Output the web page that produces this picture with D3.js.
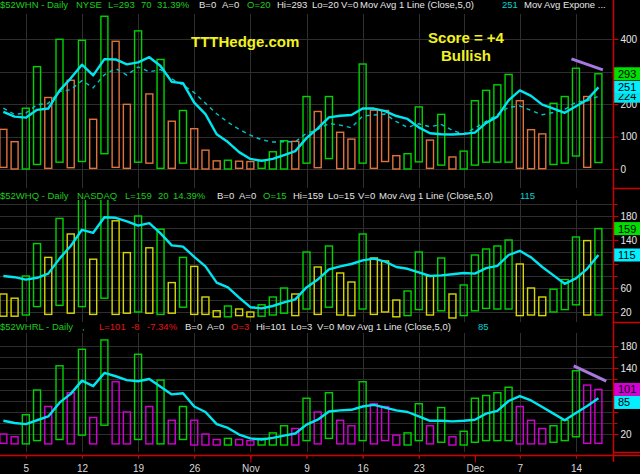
<!DOCTYPE html>
<html>
<head>
<meta charset="utf-8">
<script src="https://cdn.jsdelivr.net/npm/d3@7"></script>
<style>
body { margin: 0; background: #000; }
svg { display: block; font-family: Arial, "Liberation Sans", sans-serif; }
</style>
</head>
<body>
<svg id="chart" width="640" height="474"></svg>
<script>
// trading days shown on the chart
const days = ["2020-10-01","2020-10-02","2020-10-05","2020-10-06","2020-10-07","2020-10-08","2020-10-09",
  "2020-10-12","2020-10-13","2020-10-14","2020-10-15","2020-10-16","2020-10-19","2020-10-20","2020-10-21",
  "2020-10-22","2020-10-23","2020-10-26","2020-10-27","2020-10-28","2020-10-29","2020-10-30",
  "2020-11-02","2020-11-03","2020-11-04","2020-11-05","2020-11-06","2020-11-09","2020-11-10","2020-11-11",
  "2020-11-12","2020-11-13","2020-11-16","2020-11-17","2020-11-18","2020-11-19","2020-11-20",
  "2020-11-23","2020-11-24","2020-11-25","2020-11-27","2020-11-30",
  "2020-12-01","2020-12-02","2020-12-03","2020-12-04","2020-12-07","2020-12-08","2020-12-09","2020-12-10",
  "2020-12-11","2020-12-14","2020-12-15","2020-12-16"];

const tickDays = ["2020-10-05","2020-10-12","2020-10-19","2020-10-26","2020-11-02","2020-11-09",
  "2020-11-16","2020-11-23","2020-12-01","2020-12-07","2020-12-14"];
const tickLabels = ["5","12","19","26","Nov","9","16","23","Dec","7","14"];

// $52WHN - NYSE new highs
const nyseOpen = [5,0,0,14,2,21,4,23,2,47,5,2,21,18,2,2,18,0,0,0,0,2,0,2,0,0,0,18,4,32,1,1,18,2,23,0,0,22,2,12,0,0,12,21,21,21,2,1,1,14,18,40,5,20];
const nyseClose = [122,84,187,315,220,399,273,396,153,470,393,199,425,231,337,147,180,124,58,25,27,24,23,27,53,87,85,223,177,223,113,92,323,181,180,41,47,191,89,168,37,55,210,242,259,291,210,121,108,202,223,310,223,293];
const nyseSma = [176,161,158,182,186,241,279,321,288,338,337,322,328,344,317,268,264,204,169,107,83,52,31,25,31,43,55,95,125,159,164,166,186,186,178,163,154,128,110,107,106,108,112,142,161,211,242,225,198,186,173,193,213,251];
const nyseEma = [187,168,172,198,202,238,244,272,250,290,309,289,314,299,306,277,259,235,202,170,144,122,104,90,83,84,84,110,122,140,135,127,163,166,169,146,128,139,130,137,119,107,126,147,167,190,194,180,167,174,183,206,209,224];
const nyseTrend = [[50.6, 339], [53.4, 305]];

// $52WHQ - NASDAQ new highs
const nasdaqOpen = [13,13,15,29,16,31,18,29,16,43,16,18,20,18,16,18,28,16,16,12,12,14,12,13,15,18,14,25,16,28,15,14,25,16,20,12,14,24,15,22,10,14,22,26,25,25,14,15,14,20,24,32,15,15];
const nasdaqClose = [50,43,80,134,111,176,150,215,108,241,172,119,180,127,158,69,111,96,45,22,30,25,20,32,45,60,50,120,95,130,85,70,150,110,105,40,55,120,80,110,50,65,115,125,130,140,100,60,45,58,74,145,139,159];
const nasdaqSma = [80,78,74,77,84,109,130,157,152,178,177,171,164,168,151,131,129,112,96,69,61,44,28,26,30,36,41,61,74,91,96,100,106,109,104,95,92,86,80,81,83,85,84,93,97,115,122,111,95,81,67,76,92,115];

// $52WHRL - new high / new low
const hlOpen = [3,2,2,8,2,10,2,18,2,36,2,2,10,2,2,2,10,0,0,0,0,0,0,0,0,0,0,8,2,12,2,2,8,2,8,0,0,8,2,5,0,0,5,8,8,8,2,2,2,5,8,15,3,3];
const hlClose = [20,15,55,100,70,144,95,174,50,191,115,60,165,70,118,45,70,45,20,10,12,10,8,12,22,35,30,85,60,95,45,35,115,75,70,18,22,75,35,68,15,25,85,90,95,105,70,45,30,35,45,135,109,101];
const hlSma = [44,40,38,45,52,77,93,117,107,131,125,118,116,120,106,92,94,70,60,38,31,19,12,10,13,17,21,37,46,61,63,64,70,73,68,63,60,52,44,44,43,44,46,57,62,80,89,81,69,57,45,58,71,85];
const hlTrend = [[50.8, 144], [53.7, 116]];

const nyseHeader = [[0,"$52WHN - Daily","g"],[76,"NYSE","g"],[108,"L=293","g"],[141,"70","g"],[157,"31.39%","g"],
  [199,"B=0","w"],[222,"A=0","w"],[247,"O=20","g"],[277,"Hi=293","w"],[312,"Lo=20","w"],[341,"V=0","w"],
  [360,"Mov Avg 1 Line (Close,5,0)","w"],[502,"251","c"],[524,"Mov Avg Expone ...","w"]];
const nasdaqHeader = [[0,"$52WHQ - Daily","g"],[77,"NASDAQ","g"],[125,"L=159","g"],[158,"20","g"],[173,"14.39%","g"],
  [217,"B=0","w"],[239,"A=0","w"],[263,"O=15","g"],[293,"Hi=159","w"],[328,"Lo=15","w"],[358,"V=0","w"],
  [379,"Mov Avg 1 Line (Close,5,0)","w"],[520,"115","c"]];
const hlHeader = [[0,"$52WHRL - Daily","g"],[82,",","g"],[99,"L=101","r"],[131,"-8","r"],[147,"-7.34%","r"],
  [185,"B=0","w"],[207,"A=0","w"],[231,"O=3","r"],[256,"Hi=101","w"],[291,"Lo=3","w"],[317,"V=0","w"],
  [337,"Mov Avg 1 Line (Close,5,0)","w"],[478,"85","c"]];

const textColors = {g: "#1ccc1c", w: "#e6e6e6", c: "#00d2d2", r: "#e81414"};

const svg = d3.select("#chart");
svg.append("rect").attr("width", 640).attr("height", 474).attr("fill", "#000");

const plotRight = 613;
const gridColor = "#2e2e2e";
const axisRed = "#d00000";
const smaColor = "#00e6f0";

const dates = days.map(d3.timeParse("%Y-%m-%d"));
const x = d3.scaleLinear().domain([-0.3, 54.3]).range([0, plotRight]);
const mondays = d3.range(days.length).filter(i => dates[i].getDay() === 1);

const panels = [
  {id: "nyse", open: nyseOpen, close: nyseClose, sma: nyseSma, ema: nyseEma, trend: nyseTrend, header: nyseHeader,
   top: 14, bottom: 188, y: d3.scaleLinear().domain([0, 400]).range([169, 39]),
   grid: [0, 100, 200, 300, 400], labels: [0, 100, 200, 300, 400], minor: [],
   up: "#00d400", down: "#e0733c", headY: 8},
  {id: "nasdaq", open: nasdaqOpen, close: nasdaqClose, sma: nasdaqSma, ema: null, trend: null, header: nasdaqHeader,
   top: 200, bottom: 322, y: d3.scaleLinear().domain([0, 180]).range([324, 216]),
   grid: d3.range(20, 201, 20), labels: [20, 60, 100, 140, 180], minor: d3.range(20, 201, 20),
   up: "#00d400", down: "#d8d800", headY: 199},
  {id: "hl", open: hlOpen, close: hlClose, sma: hlSma, ema: null, trend: hlTrend, header: hlHeader,
   top: 333, bottom: 452, y: d3.scaleLinear().domain([0, 180]).range([445, 346]),
   grid: d3.range(20, 181, 20), labels: [20, 60, 100, 140, 180], minor: d3.range(20, 181, 20),
   up: "#00d400", down: "#d400d4", headY: 330}
];

panels.forEach(p => {
  const y = p.y;
  const clipId = "clip-" + p.id;
  svg.append("clipPath").attr("id", clipId)
    .append("rect").attr("x", 0).attr("y", p.top).attr("width", plotRight).attr("height", p.bottom - p.top);

  const g = svg.append("g").attr("clip-path", "url(#" + clipId + ")");

  // grid
  g.selectAll(".vgrid").data(mondays).join("line")
    .attr("x1", i => Math.round(x(i)) + 0.5).attr("x2", i => Math.round(x(i)) + 0.5)
    .attr("y1", p.top).attr("y2", p.bottom)
    .attr("stroke", gridColor).attr("stroke-width", 1);
  g.selectAll(".hgrid").data(p.grid).join("line")
    .attr("x1", 0).attr("x2", plotRight)
    .attr("y1", v => Math.round(y(v)) + 0.5).attr("y2", v => Math.round(y(v)) + 0.5)
    .attr("stroke", gridColor).attr("stroke-width", 1);

  // hollow candles, coloured against previous close
  g.selectAll(".bar").data(d3.range(p.close.length)).join("rect")
    .attr("x", i => x(i) - 3.5)
    .attr("width", 7)
    .attr("y", i => y(Math.max(p.open[i], p.close[i])))
    .attr("height", i => Math.abs(y(p.open[i]) - y(p.close[i])))
    .attr("fill", "none")
    .attr("stroke", i => (i > 0 && p.close[i] > p.close[i - 1]) ? p.up : p.down)
    .attr("stroke-width", 1.4);

  const line = d3.line().x((d, i) => x(i)).y(d => y(d));
  if (p.ema) {
    g.append("path").datum(p.ema).attr("d", line)
      .attr("fill", "none").attr("stroke", "#00c4cc").attr("stroke-width", 1.4)
      .attr("stroke-dasharray", "4,4");
  }
  g.append("path").datum(p.sma).attr("d", line)
    .attr("fill", "none").attr("stroke", smaColor).attr("stroke-width", 2.4)
    .attr("stroke-linejoin", "round");

  if (p.trend) {
    g.append("path").datum(p.trend)
      .attr("d", d3.line().x(d => x(d[0])).y(d => y(d[1])))
      .attr("stroke", "#a878e0").attr("stroke-width", 3).attr("fill", "none");
  }

  // last-value badges
  const n = p.close.length - 1;
  const cy = y(p.close[n]);
  let sy = y(p.sma[n]);
  if (!p.ema && Math.abs(sy - cy) < 13) sy = cy + 13;
  const badges = [
    {v: p.close[n], bg: p.close[n] > p.close[n - 1] ? "#00e000" : p.down, y: cy},
    {v: p.sma[n], bg: "#00f0ff", y: sy}
  ];

  // right axis (labels hidden where a badge covers them)
  const ax = svg.append("g").attr("transform", "translate(" + (plotRight + 0.5) + ",0)");
  if (p.minor.length) {
    ax.append("g").call(d3.axisRight(y).tickValues(p.minor).tickSize(4).tickFormat(""))
      .call(a => a.select(".domain").remove())
      .selectAll("line").attr("stroke", axisRed);
  }
  const shown = p.labels.filter(v => !badges.some(b => Math.abs(b.y - y(v)) < 10));
  ax.append("g").call(d3.axisRight(y).tickValues(p.labels).tickSize(5).tickPadding(2)
      .tickFormat(v => shown.includes(v) ? v : ""))
    .call(a => a.select(".domain").remove())
    .call(a => a.selectAll("line").attr("stroke", axisRed))
    .selectAll("text").attr("fill", "#e6e6e6").attr("font-size", 10)
    .attr("font-family", "Arial, 'Liberation Sans', sans-serif");

  // separator stub on the axis side
  svg.append("line").attr("x1", plotRight).attr("x2", 640)
    .attr("y1", p.bottom + 0.5).attr("y2", p.bottom + 0.5)
    .attr("stroke", axisRed).attr("stroke-width", 1.5);

  // EMA badge sits mostly behind the SMA badge, only its lower edge shows
  if (p.ema) {
    const ey = y(p.ema[n]);
    const clipE = "clip-ema-" + p.id;
    svg.append("clipPath").attr("id", clipE).append("rect")
      .attr("x", plotRight).attr("y", sy + 6.5).attr("width", 640 - plotRight).attr("height", 20);
    const eb = svg.append("g").attr("clip-path", "url(#" + clipE + ")");
    eb.append("rect").attr("x", plotRight + 1).attr("y", ey - 6.5)
      .attr("width", 640 - plotRight).attr("height", 13).attr("fill", "#00e6f0");
    eb.append("text").attr("x", plotRight + 5).attr("y", ey + 4)
      .attr("font-size", 11).attr("fill", "#000").text(Math.round(p.ema[n]));
  }

  badges.forEach(b => {
    svg.append("rect").attr("x", plotRight + 1).attr("y", b.y - 6.5)
      .attr("width", 640 - plotRight).attr("height", 13).attr("fill", b.bg);
    svg.append("text").attr("x", plotRight + 5).attr("y", b.y + 4)
      .attr("font-size", 11).attr("fill", "#000").text(Math.round(b.v));
  });

  // header line
  svg.append("g").selectAll("text").data(p.header).join("text")
    .attr("x", d => d[0]).attr("y", p.headY)
    .attr("font-size", 9.5)
    .attr("fill", d => textColors[d[2]])
    .text(d => d[1]);
});

// full-height right axis line
svg.append("line").attr("x1", plotRight + 0.5).attr("x2", plotRight + 0.5)
  .attr("y1", 0).attr("y2", 462).attr("stroke", axisRed).attr("stroke-width", 1.5);

// bottom date axis
const tickIdx = tickDays.map(d => days.indexOf(d));
const bottom = svg.append("g").attr("transform", "translate(0,455.5)");
bottom.append("line").attr("x1", 0).attr("x2", 640).attr("stroke", axisRed).attr("stroke-width", 1.5);
bottom.append("g")
  .call(d3.axisBottom(x).tickValues(mondays.concat(tickIdx)).tickSize(3).tickFormat(""))
  .call(a => a.select(".domain").remove())
  .selectAll("line").attr("stroke", axisRed);
bottom.append("g")
  .call(d3.axisBottom(x).tickValues(tickIdx.filter((d, i) => isNaN(+tickLabels[i]))).tickSize(7).tickFormat(""))
  .call(a => a.select(".domain").remove())
  .selectAll("line").attr("stroke", axisRed);
bottom.append("g")
  .call(d3.axisBottom(x).tickValues(tickIdx).tickSize(0).tickPadding(9)
    .tickFormat(i => tickLabels[tickIdx.indexOf(i)]))
  .call(a => a.select(".domain").remove())
  .selectAll("text").attr("fill", "#d8d8d8").attr("font-size", 10)
  .attr("font-family", "Arial, 'Liberation Sans', sans-serif");

// annotations
svg.append("text").attr("x", 191).attr("y", 47).attr("font-size", 15).attr("font-weight", "bold")
  .attr("fill", "#f2f21e").text("TTTHedge.com");
svg.append("text").attr("x", 466).attr("y", 43).attr("text-anchor", "middle")
  .attr("font-size", 15).attr("font-weight", "bold").attr("fill", "#f2f21e").text("Score = +4");
svg.append("text").attr("x", 466).attr("y", 61).attr("text-anchor", "middle")
  .attr("font-size", 15).attr("font-weight", "bold").attr("fill", "#f2f21e").text("Bullish");
</script>
</body>
</html>
